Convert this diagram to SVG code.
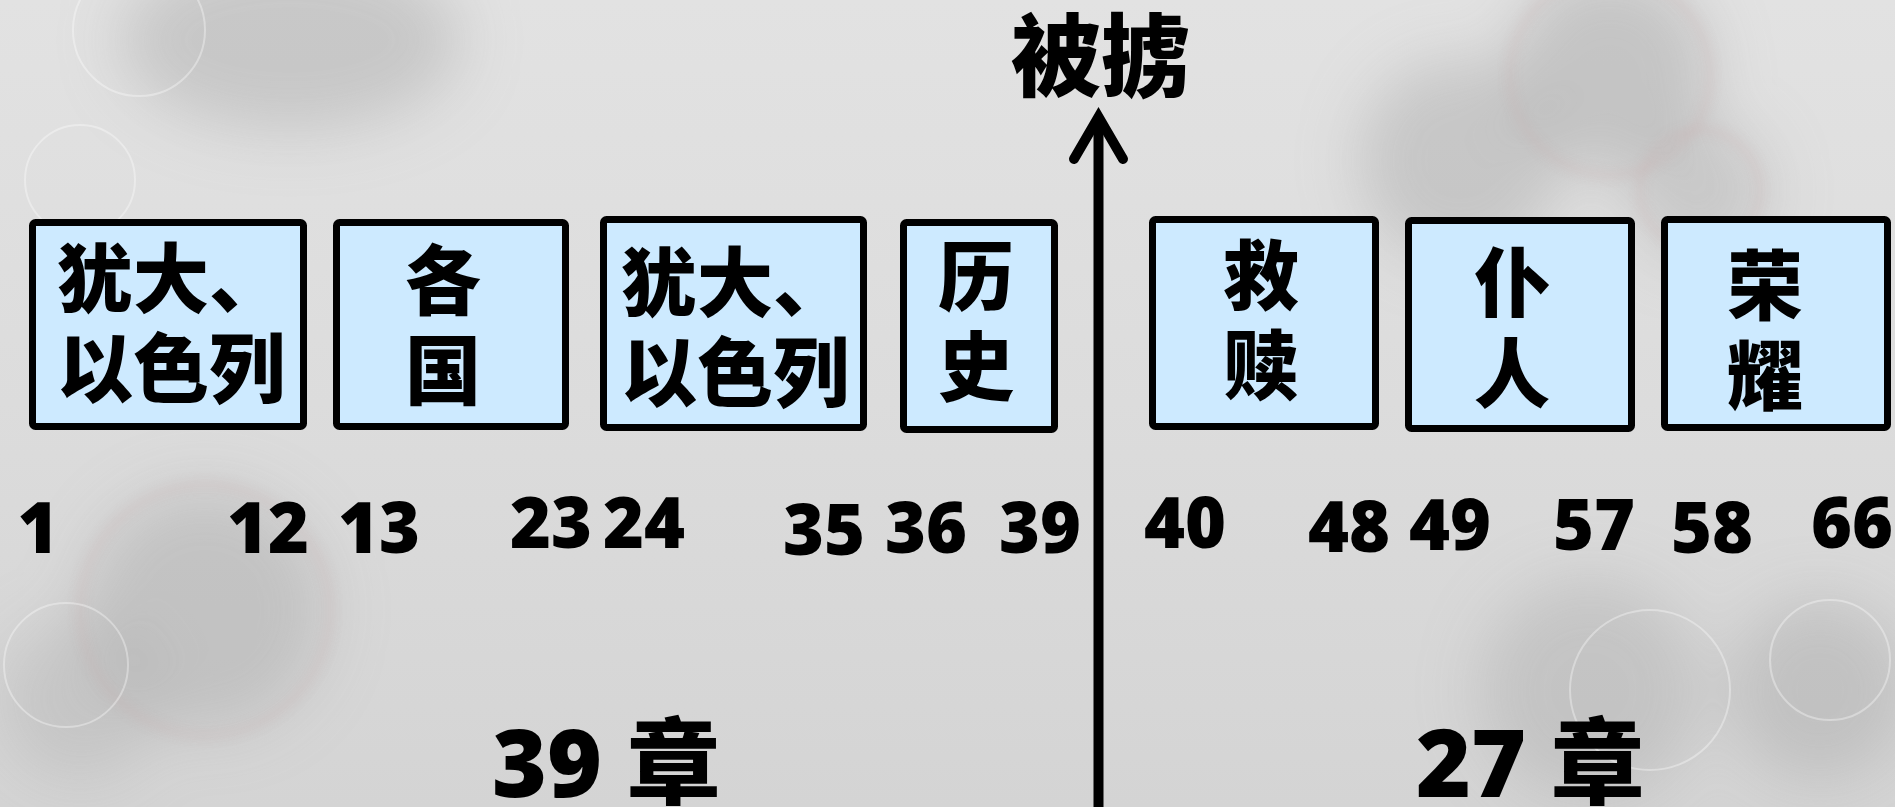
<svg xmlns="http://www.w3.org/2000/svg" width="1895" height="807" viewBox="0 0 1895 807">
<defs>
<linearGradient id="bg" x1="0" y1="0" x2="0" y2="1">
<stop offset="0" stop-color="#e2e2e2"/>
<stop offset="0.5" stop-color="#dcdcdc"/>
<stop offset="1" stop-color="#d4d4d4"/>
</linearGradient>
<filter id="blur" x="-50%" y="-50%" width="200%" height="200%"><feGaussianBlur stdDeviation="30"/></filter>
<filter id="blur2" x="-50%" y="-50%" width="200%" height="200%"><feGaussianBlur stdDeviation="6"/></filter>
</defs>
<style>
.box{fill:#cdeaff;stroke:#000;stroke-width:7}
.cjk{font-family:"Noto Sans CJK SC","Noto Sans",sans-serif;font-weight:900;fill:#000}
.lbl{font-size:76px}
.num{font-family:"Open Sans","Noto Sans",sans-serif;font-weight:800;font-size:70px;fill:#000;text-anchor:middle}
.big{font-family:"Open Sans","Noto Sans CJK SC",sans-serif;font-weight:800;font-size:94px;fill:#000}
.ring{fill:none;stroke:#fff;stroke-opacity:0.35;stroke-width:2}
</style>
<g id="background">
<rect x="0" y="0" width="1895" height="807" fill="url(#bg)"/>
<g filter="url(#blur)" fill="#a8a8a8">
<ellipse cx="290" cy="40" rx="170" ry="90" opacity="0.45"/>
<circle cx="205" cy="610" r="120" opacity="0.45"/>
<circle cx="1460" cy="160" r="100" opacity="0.45"/>
<circle cx="1610" cy="70" r="100" opacity="0.5"/>
<circle cx="1700" cy="190" r="70" opacity="0.4"/>
<circle cx="1590" cy="690" r="110" opacity="0.4"/>
<circle cx="1820" cy="690" r="90" opacity="0.45"/>
<circle cx="80" cy="700" r="80" opacity="0.35"/>
</g>
<g filter="url(#blur2)" fill="none" stroke="#c9a0a0" stroke-width="3" opacity="0.45">
<circle cx="205" cy="610" r="125"/>
<circle cx="1610" cy="75" r="100"/>
<circle cx="1700" cy="190" r="60"/>
</g>
<circle class="ring" cx="139" cy="30" r="66"/>
<circle class="ring" cx="80" cy="180" r="55"/>
<circle class="ring" cx="66" cy="665" r="62"/>
<circle class="ring" cx="1650" cy="690" r="80"/>
<circle class="ring" cx="1830" cy="660" r="60"/>
</g>
<g id="connectors">
<line x1="1098.5" y1="120" x2="1098.5" y2="807" stroke="#000" stroke-width="10"/>
<polyline points="1074,159 1098.5,117 1123,159" fill="none" stroke="#000" stroke-width="10" stroke-linecap="round" stroke-linejoin="miter"/>
</g>
<g id="title"><text class="cjk" x="1101" y="89" font-size="90" text-anchor="middle">被掳</text></g>
<g id="n1"><rect class="box" x="32.5" y="222.5" width="271" height="204" rx="3"/>
<text class="cjk lbl" x="57" y="307">犹大、</text><text class="cjk lbl" x="57" y="397">以色列</text></g>
<g id="n2"><rect class="box" x="336.5" y="222.5" width="229" height="204" rx="3"/>
<text class="cjk lbl" x="443" y="309" text-anchor="middle">各</text><text class="cjk lbl" x="443" y="399" text-anchor="middle">国</text></g>
<g id="n3"><rect class="box" x="603.5" y="219.5" width="260" height="208" rx="3"/>
<text class="cjk lbl" x="621" y="311">犹大、</text><text class="cjk lbl" x="621" y="401">以色列</text></g>
<g id="n4"><rect class="box" x="903.5" y="222.5" width="151" height="207" rx="3"/>
<text class="cjk lbl" x="976" y="305" text-anchor="middle">历</text><text class="cjk lbl" x="976" y="395" text-anchor="middle">史</text></g>
<g id="n5"><rect class="box" x="1152.5" y="219.5" width="223" height="207" rx="3"/>
<text class="cjk lbl" x="1261" y="304" text-anchor="middle">救</text><text class="cjk lbl" x="1261" y="394" text-anchor="middle">赎</text></g>
<g id="n6"><rect class="box" x="1408.5" y="220.5" width="223" height="208" rx="3"/>
<text class="cjk lbl" x="1512" y="311" text-anchor="middle">仆</text><text class="cjk lbl" x="1512" y="402" text-anchor="middle">人</text></g>
<g id="n7"><rect class="box" x="1664.5" y="219.5" width="223" height="208" rx="3"/>
<text class="cjk lbl" x="1765" y="314" text-anchor="middle">荣</text><text class="cjk lbl" x="1765" y="404" text-anchor="middle">耀</text></g>
<g id="numbers">
<text class="num" x="38" y="553">1</text>
<text class="num" x="268" y="553">12</text>
<text class="num" x="379" y="553">13</text>
<text class="num" x="551" y="548">23</text>
<text class="num" x="644" y="548">24</text>
<text class="num" x="824" y="555">35</text>
<text class="num" x="926" y="553">36</text>
<text class="num" x="1040" y="553">39</text>
<text class="num" x="1185" y="548">40</text>
<text class="num" x="1349" y="552">48</text>
<text class="num" x="1450" y="550">49</text>
<text class="num" x="1594" y="550">57</text>
<text class="num" x="1712" y="553">58</text>
<text class="num" x="1852" y="548">66</text>
</g>
<g id="chapters">
<text class="big" x="492" y="797">39 章</text>
<text class="big" x="1416" y="797">27 章</text>
</g>
</svg>
